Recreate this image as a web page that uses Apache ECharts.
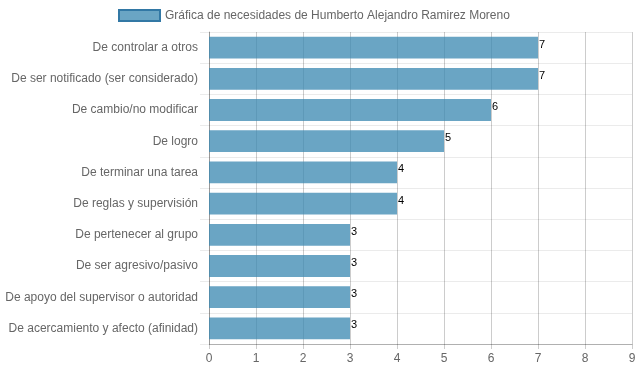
<!DOCTYPE html>
<html><head><meta charset="utf-8">
<script src="https://cdn.jsdelivr.net/npm/echarts@6/dist/echarts.min.js"></script>
<style>html,body{margin:0;padding:0;background:#fff}#c{width:639px;height:372px}</style>
</head><body><div id="c"></div>
<script>
const categories = [
  "De controlar a otros",
  "De ser notificado (ser considerado)",
  "De cambio/no modificar",
  "De logro",
  "De terminar una tarea",
  "De reglas y supervisión",
  "De pertenecer al grupo",
  "De ser agresivo/pasivo",
  "De apoyo del supervisor o autoridad",
  "De acercamiento y afecto (afinidad)"
];
const values = [7, 7, 6, 5, 4, 4, 3, 3, 3, 3];
const seriesName = "Gráfica de necesidades de Humberto Alejandro Ramirez Moreno";
const xTicks = {min: 0, max: 9, interval: 1};

const font = "'Liberation Sans', Arial, Helvetica, sans-serif";
const chart = echarts.init(document.getElementById('c'), null, {renderer: 'canvas'});
chart.setOption({
  animation: false,
  textStyle: {fontFamily: font},
  legend: {
    top: 9, left: 118, padding: 0,
    itemWidth: 41, itemHeight: 11, itemGap: 6,
    icon: 'rect',
    textStyle: {color: '#666', fontSize: 12, fontFamily: font},
    data: [{name: seriesName, itemStyle: {color: 'rgba(56,135,176,0.75)', borderColor: 'rgb(50,120,165)', borderWidth: 2}}]
  },
  grid: {left: 209, right: 7, top: 32, bottom: 28, containLabel: false},
  xAxis: {
    type: 'value', min: xTicks.min, max: xTicks.max, interval: xTicks.interval,
    axisLine: {show: true, lineStyle: {color: 'rgba(0,0,0,0.25)', width: 1}},
    axisTick: {show: true, length: 5, lineStyle: {color: 'rgba(0,0,0,0.2)'}},
    axisLabel: {color: '#666', fontSize: 12, margin: 9, fontFamily: font},
    splitLine: {show: true, lineStyle: {color: 'rgba(0,0,0,0.2)', width: 1}}
  },
  yAxis: {
    type: 'category', data: categories, inverse: true,
    axisLine: {show: true, lineStyle: {color: 'rgba(0,0,0,0.25)'}},
    axisTick: {show: true, length: 9, lineStyle: {color: '#ebebeb'}},
    axisLabel: {color: '#666', fontSize: 12, margin: 11, fontFamily: font},
    splitLine: {show: true, lineStyle: {color: '#ebebeb', width: 1}}
  },
  series: [{
    name: seriesName, type: 'bar', data: values,
    barCategoryGap: '30%',
    itemStyle: {color: 'rgba(56,135,176,0.75)'},
    label: {show: true, position: 'right', distance: 1, offset: [0, -3], color: '#000', fontSize: 11, fontFamily: font}
  }]
});
</script></body></html>
